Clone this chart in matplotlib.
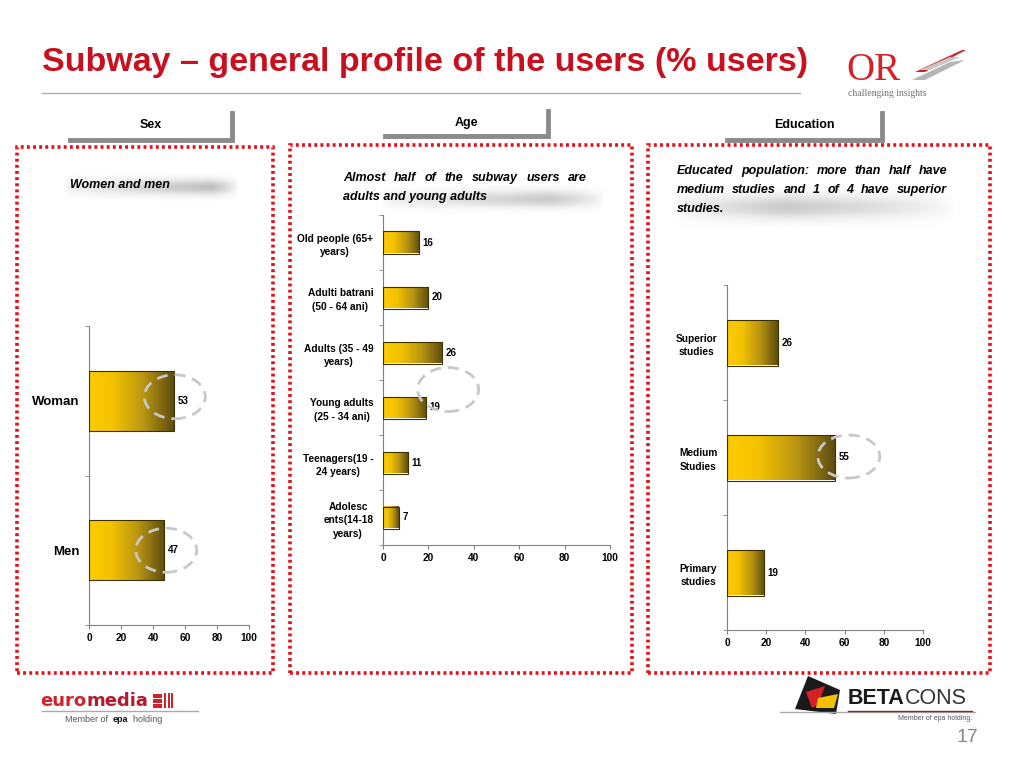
import numpy as np
import matplotlib
matplotlib.use("Agg")
import matplotlib.pyplot as plt
from matplotlib.colors import LinearSegmentedColormap
from matplotlib.patches import Ellipse, Rectangle, Polygon
from matplotlib.transforms import ScaledTranslation
from matplotlib.lines import Line2D

plt.rcParams['font.family'] = ['Liberation Sans', 'DejaVu Sans']

# data
sex_labels = ["Woman", "Men"]
sex_values = [53, 47]

age_labels = ["Old people (65+\nyears)", "Adulti batrani\n(50 - 64 ani)", "Adults (35 - 49\nyears)",
              "Young adults\n(25 - 34 ani)", "Teenagers(19 -\n24 years)", "Adolesc\nents(14-18\nyears)"]
age_values = [16, 20, 26, 19, 11, 7]

edu_labels = ["Superior\nstudies", "Medium\nStudies", "Primary\nstudies"]
edu_values = [26, 55, 19]

x_ticks = [0, 20, 40, 60, 80, 100]

W, H = 1024, 768
fig = plt.figure(figsize=(W / 100, H / 100), dpi=100)
renderer = fig.canvas.get_renderer()


def px(x):
    return x / W


def py(y):
    return 1 - y / H


bar_cmap = LinearSegmentedColormap.from_list(
    "gold", [(0, "#FFCC00"), (0.3, "#F2C200"), (0.65, "#B89412"), (1, "#5C4C10")])
grad = np.linspace(0, 1, 256).reshape(1, -1)


def bar_chart(rect, labels, values, label_size):
    """horizontal bars with the yellow-to-olive fill of the slide"""
    ax = fig.add_axes([px(rect[0]), py(rect[3]), px(rect[2] - rect[0]), (rect[3] - rect[1]) / H])
    n = len(values)
    pos = np.arange(n)[::-1]
    bars = ax.barh(pos, values, height=0.4, color="none", edgecolor="#3a3000", lw=0.8, zorder=3)
    for b in bars:
        x0, y0, w, h = b.get_x(), b.get_y(), b.get_width(), b.get_height()
        im = ax.imshow(grad, cmap=bar_cmap, aspect="auto", interpolation="bilinear",
                       extent=(x0, x0 + w, y0 - 0.05, y0 + h + 0.05), zorder=2)
        im.set_clip_path(b)
    for v, p in zip(values, pos):
        ax.annotate(str(v), (v, p), xytext=(2.5, 0), textcoords="offset points",
                    va="center", ha="left", fontsize=7, fontweight="bold")
    ax.set_xlim(0, 100)
    ax.set_ylim(-0.5, n - 0.5)
    ax.set_xticks(x_ticks)
    ax.set_xticklabels([str(t) for t in x_ticks], fontsize=7.3, fontweight="bold")
    ax.set_yticks(pos)
    ax.set_yticklabels(labels, fontsize=label_size, fontweight="bold")
    for t in ax.get_yticklabels():
        t.set_multialignment("center")
        t.set_linespacing(1.45)
    ax.set_yticks(np.arange(n + 1) - 0.5, minor=True)
    ax.tick_params(axis="y", which="major", length=0, pad=7)
    ax.tick_params(axis="y", which="minor", length=3, color="#808080", direction="out")
    ax.tick_params(axis="x", length=3, color="#808080", pad=3)
    for s in ["top", "right"]:
        ax.spines[s].set_visible(False)
    for s in ["left", "bottom"]:
        ax.spines[s].set_color("#808080")
    ax.set_facecolor("none")
    return ax, pos


def highlight(ax, x, y, dx, dy, w=61, h=44):
    tr = fig.dpi_scale_trans + ScaledTranslation(x, y, ax.transData)
    e = Ellipse((dx / 100, dy / 100), w / 100, h / 100, transform=tr, fill=False,
                edgecolor="#C8C8C8", lw=2, linestyle=(0, (4, 2.5)), clip_on=False, zorder=5)
    fig.add_artist(e)


def shadow(x0, y0, x1, y1, peak, alpha=0.5, floor=0.2):
    # soft grey streak behind the comment texts
    ax = fig.add_axes([px(x0), py(y1), px(x1 - x0), (y1 - y0) / H], zorder=-1)
    ax.axis("off")
    xs = np.linspace(0, 1, 300)
    ys = np.linspace(-1, 1, 80)
    rise = floor + (1 - floor) * xs / peak
    fall = np.clip(1 - (xs - peak) / (1 - peak), 0, 1) ** 0.7
    fx = np.where(xs < peak, rise, fall)
    fx[:15] *= np.linspace(0, 1, 15)
    fy = np.exp(-(ys / 0.55) ** 2)
    img = np.zeros((80, 300, 4))
    img[..., :3] = 0.5
    img[..., 3] = np.outer(fy, fx) * alpha
    ax.imshow(img, aspect="auto", extent=(0, 1, 0, 1))


def justified(lines, x0, x1, y0, dy, **kw):
    for i, line in enumerate(lines):
        y = y0 + i * dy
        words = line.split()
        if i == len(lines) - 1:
            fig.text(px(x0), py(y), line, va="center", **kw)
            continue
        ts = [fig.text(0, py(y), w, va="center", **kw) for w in words]
        widths = [t.get_window_extent(renderer).width for t in ts]
        gap = (x1 - x0 - sum(widths)) / (len(words) - 1)
        x = x0
        for t, w in zip(ts, widths):
            t.set_x(px(x))
            x += w + gap


def text_run(x, y, parts, **kw):
    """consecutive text pieces with their own styles, one after the other"""
    for s, style in parts:
        t = fig.text(px(x), py(y), s, va="center", **kw, **style)
        x += t.get_window_extent(renderer).width
    return x


def dotted_box(x0, y0, x1, y1):
    fig.add_artist(Rectangle((px(x0), py(y1)), px(x1 - x0), (y1 - y0) / H, transform=fig.transFigure,
                             fill=False, edgecolor="#E3101B", lw=2.6, linestyle=(0, (0.8, 0.9))))


def tab(text, x0, x1, y_line, y_top, y_text):
    fig.add_artist(Line2D([px(x0), px(x1), px(x1)], [py(y_line), py(y_line), py(y_top)],
                          transform=fig.transFigure, color="#8a8a8a", lw=3.5, solid_joinstyle="miter"))
    fig.text(px((x0 + x1) / 2), py(y_text), text, ha="center", va="center", fontsize=9, fontweight="bold")


def poly(pts, color):
    fig.add_artist(Polygon([(px(a), py(b)) for a, b in pts], closed=True, transform=fig.transFigure,
                           color=color, lw=0))


# title
fig.text(px(42), py(62), "Subway \u2013 general profile of the users (% users)", fontsize=24.5,
         fontweight="bold", color="#C8101E", va="center")
fig.add_artist(Line2D([px(42), px(800)], [py(93), py(93)], transform=fig.transFigure, color="#b0b0b0", lw=1))

# OR logo
fig.text(px(846), py(80), "OR", fontsize=28, family="Liberation Serif", color="#D2232A", va="baseline")
fig.text(px(848), py(94), "challenging insights", fontsize=7, family="Liberation Serif", color="#707070",
         va="center")
poly([(915, 72), (962, 50), (966, 50), (925, 72)], "#D2232A")
poly([(912, 80), (950, 62), (965, 60), (925, 80)], "#b5b5b5")
poly([(920, 70), (950, 57), (960, 57), (930, 70)], "#c8c8c8")

# panels
dotted_box(17, 147, 273, 673)
dotted_box(290, 145, 632, 673)
dotted_box(648, 145, 990, 673)

tab("Sex", 70, 232, 140, 113, 125)
tab("Age", 385, 548, 136, 111, 123)
tab("Education", 727, 882, 140, 113, 125)

# comments
shadow(62, 173, 238, 201, 0.85, alpha=0.5)
fig.text(px(70), py(185), "Women and men", fontsize=9, fontweight="bold", style="italic", va="center")

shadow(380, 184, 605, 214, 0.75, alpha=0.42)
justified(["Almost  half  of  the  subway  users  are", "adults and young adults"], 343, 587, 178, 19,
          fontsize=9, fontweight="bold", style="italic")

shadow(672, 186, 955, 228, 0.4, alpha=0.42)
justified(["Educated population: more than half  have", "medium  studies  and  1  of  4  have  superior",
           "studies."], 677, 947, 171, 19, fontsize=9, fontweight="bold", style="italic")

# charts
ax1, p1 = bar_chart((89, 326, 249, 625), sex_labels, sex_values, 9.5)
highlight(ax1, sex_values[0], p1[0], 1, 4)
highlight(ax1, sex_values[1], p1[1], 2, 0)

ax2, p2 = bar_chart((383, 215, 610, 545), age_labels, age_values, 7.3)
highlight(ax2, age_values[3], p2[3], 22, 18)

ax3, p3 = bar_chart((727, 285, 923, 630), edu_labels, edu_values, 7.3)
highlight(ax3, edu_values[1], p3[1], 14, 1, w=62, h=43)

# footer logos
text_run(40, 701, [("euro", {"color": "#D42027"}), ("media", {"color": "#B8182E"})],
         fontsize=13, fontweight="bold", family="DejaVu Sans")
for i in range(3):
    fig.add_artist(Rectangle((px(153), py(694 + i * 5 + 3.5)), px(9), 3.5 / H, transform=fig.transFigure,
                             color="#D42027", lw=0))
    fig.add_artist(Rectangle((px(164 + i * 3.5), py(708)), px(2.2), 15 / H, transform=fig.transFigure,
                             color="#D42027", lw=0))
fig.add_artist(Line2D([px(42), px(198)], [py(711), py(711)], transform=fig.transFigure, color="#aaaaaa", lw=1))
text_run(65, 719, [("Member of  ", {"color": "#555555"}), ("epa", {"color": "#111111", "fontweight": "bold"}),
                   ("  holding", {"color": "#555555"})], fontsize=6.5)

poly([(808, 676), (840, 690), (836, 714), (795, 709)], "#1a1a1a")
poly([(806, 692), (825, 686), (818, 705), (812, 708)], "#D42027")
poly([(818, 698), (838, 694), (834, 708), (816, 708)], "#F2C200")
text_run(848, 698, [("BETA", {"fontweight": "bold", "color": "#1a1a1a"}), ("CONS", {"color": "#333333"})],
         fontsize=15.5)
fig.add_artist(Line2D([px(780), px(975)], [py(712), py(712)], transform=fig.transFigure, color="#aaaaaa", lw=1))
fig.add_artist(Line2D([px(848), px(972)], [py(710.5), py(710.5)], transform=fig.transFigure, color="#8a2a2a",
                      lw=1))
fig.text(px(972), py(718), "Member of epa holding.", fontsize=5, color="#555555", va="center", ha="right")
fig.text(px(978), py(737), "17", fontsize=14, color="#888888", va="center", ha="right")

fig.savefig("out.png", dpi=100)
